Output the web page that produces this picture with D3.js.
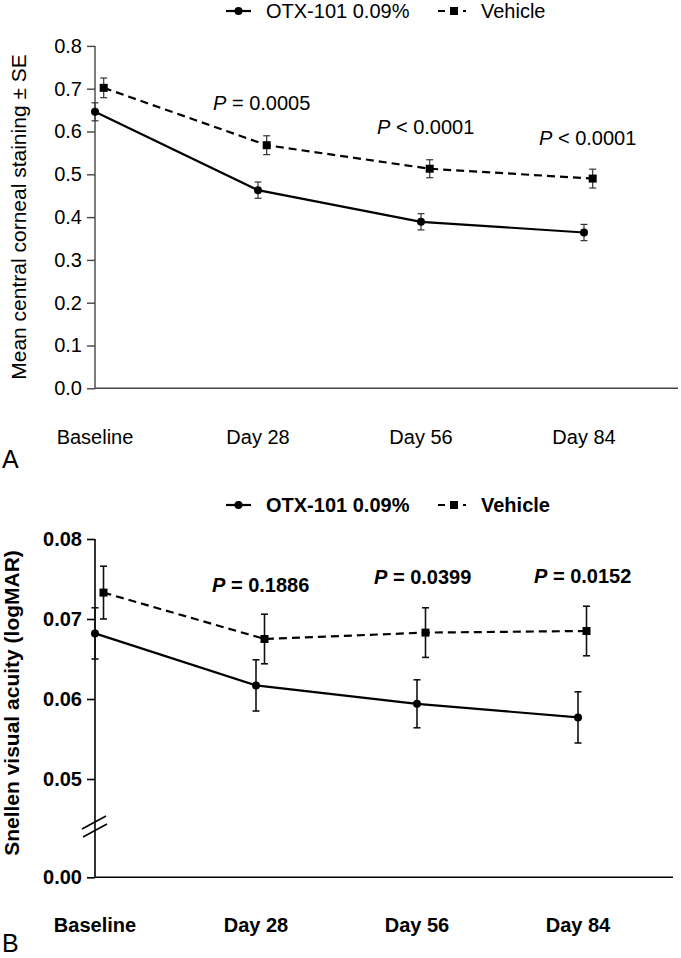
<!DOCTYPE html>
<html>
<head>
<meta charset="utf-8">
<script src="https://cdn.jsdelivr.net/npm/d3@7"></script>
<style>
  body { margin: 0; background: #fff; }
  svg { display: block; font-family: "Liberation Sans", Arial, sans-serif; }
</style>
</head>
<body>
<svg id="chart" width="681" height="958"></svg>
<script>
// ---------- data ----------
const categories = ["Baseline", "Day 28", "Day 56", "Day 84"];
const seriesNames = ["OTX-101 0.09%", "Vehicle"];

// Panel A: mean central corneal staining ± SE
const stainOTX = [0.646, 0.463, 0.389, 0.364];
const stainOTXse = [0.021, 0.019, 0.019, 0.019];
const stainVeh = [0.702, 0.568, 0.513, 0.490];
const stainVehSe = [0.023, 0.022, 0.021, 0.022];
const stainTicks = [0, 0.1, 0.2, 0.3, 0.4, 0.5, 0.6, 0.7, 0.8];
const stainP = [
  { cat: "Day 28", op: "=", val: "0.0005" },
  { cat: "Day 56", op: "<", val: "0.0001" },
  { cat: "Day 84", op: "<", val: "0.0001" }
];

// Panel B: Snellen visual acuity (logMAR)
const acuityOTX = [0.0682, 0.0617, 0.0594, 0.0577];
const acuityOTXse = [0.0032, 0.0032, 0.0030, 0.0032];
const acuityVeh = [0.0733, 0.0675, 0.0683, 0.0685];
const acuityVehSe = [0.0033, 0.0031, 0.0031, 0.0031];
const acuityTicks = [0, 0.05, 0.06, 0.07, 0.08];
const acuityP = [
  { cat: "Day 28", op: "=", val: "0.1886" },
  { cat: "Day 56", op: "=", val: "0.0399" },
  { cat: "Day 84", op: "=", val: "0.0152" }
];

// ---------- drawing ----------
const svg = d3.select("#chart");

function panel(cfg) {
  const g = svg.append("g");
  const weight = cfg.bold ? "bold" : "normal";
  const x = d3.scalePoint().domain(categories).range(cfg.xRange).padding(0);
  const y = cfg.y;

  // legend
  const lg = g.append("g");
  lg.append("line").attr("x1", 226).attr("x2", 251).attr("y1", cfg.legendY).attr("y2", cfg.legendY)
    .attr("stroke", "#000").attr("stroke-width", 2.2);
  lg.append("circle").attr("cx", 238.5).attr("cy", cfg.legendY).attr("r", 4).attr("fill", "#000");
  lg.append("text").attr("x", 266).attr("y", cfg.legendY + 7).attr("font-size", 20).attr("font-weight", weight)
    .text(seriesNames[0]);
  lg.append("line").attr("x1", 438).attr("x2", 470).attr("y1", cfg.legendY).attr("y2", cfg.legendY)
    .attr("stroke", "#000").attr("stroke-width", 2.2).attr("stroke-dasharray", "7,5,8,5,3");
  lg.append("rect").attr("x", 450).attr("y", cfg.legendY - 4).attr("width", 8).attr("height", 8).attr("fill", "#000");
  lg.append("text").attr("x", 481).attr("y", cfg.legendY + 7).attr("font-size", 20).attr("font-weight", weight)
    .text(seriesNames[1]);

  // axes
  const yAxis = d3.axisLeft(y).tickValues(cfg.ticks).tickFormat(d3.format(cfg.fmt)).tickSize(8).tickPadding(5);
  const ya = g.append("g").attr("transform", `translate(${cfg.xRange[0]},0)`).call(yAxis);
  ya.select(".domain").attr("stroke", cfg.axisColor).attr("stroke-width", cfg.axisWidth)
    .attr("d", `M-0,${y(cfg.ticks[cfg.ticks.length - 1])}H0V${y(0)}`);
  ya.selectAll(".tick line").attr("stroke", cfg.axisColor).attr("stroke-width", cfg.axisWidth);
  ya.selectAll(".tick text").attr("font-size", 20).attr("font-weight", weight).attr("fill", "#000")
    .attr("font-family", "Liberation Sans, Arial, sans-serif");

  g.append("line").attr("x1", cfg.xRange[0]).attr("x2", cfg.xEnd).attr("y1", y(0)).attr("y2", y(0))
    .attr("stroke", cfg.axisColor).attr("stroke-width", cfg.axisWidth);

  // category labels
  g.selectAll(".cat").data(categories).join("text")
    .attr("x", d => x(d)).attr("y", cfg.catY).attr("text-anchor", "middle")
    .attr("font-size", 20).attr("font-weight", weight).text(d => d);

  // y title
  g.append("text").attr("transform", `translate(${cfg.titleX},${cfg.titleY}) rotate(-90)`)
    .attr("text-anchor", "middle").attr("font-size", 21).attr("font-weight", weight).text(cfg.title);

  // panel letter
  g.append("text").attr("x", 2).attr("y", cfg.letterY).attr("font-size", 25).text(cfg.letter);

  // series
  const series = [
    { vals: cfg.otx, se: cfg.otxSe, dx: 0, dash: null, shape: "circle" },
    { vals: cfg.veh, se: cfg.vehSe, dx: cfg.dodge, dash: "8,5", shape: "square" }
  ];
  series.forEach(s => {
    const pts = categories.map((c, i) => ({ x: x(c) + s.dx, v: s.vals[i], e: s.se[i] }));
    g.append("path").datum(pts)
      .attr("d", d3.line().x(d => d.x).y(d => y(d.v)))
      .attr("fill", "none").attr("stroke", "#000").attr("stroke-width", 2.2)
      .attr("stroke-dasharray", s.dash);
    const eb = g.append("g").attr("stroke", cfg.errColor).attr("stroke-width", cfg.errWidth);
    pts.forEach(p => {
      eb.append("line").attr("x1", p.x).attr("x2", p.x).attr("y1", y(p.v - p.e)).attr("y2", y(p.v + p.e));
      [p.v - p.e, p.v + p.e].forEach(v => {
        eb.append("line").attr("x1", p.x - 3.5).attr("x2", p.x + 3.5).attr("y1", y(v)).attr("y2", y(v));
      });
    });
    if (s.shape === "circle") {
      g.selectAll(null).data(pts).join("circle").attr("cx", d => d.x).attr("cy", d => y(d.v))
        .attr("r", 4).attr("fill", "#000");
    } else {
      g.selectAll(null).data(pts).join("rect").attr("x", d => d.x - 4).attr("y", d => y(d.v) - 4)
        .attr("width", 8).attr("height", 8).attr("fill", "#000");
    }
  });

  // P values
  cfg.pvals.forEach((p, i) => {
    const t = g.append("text").attr("x", cfg.pPos[i][0]).attr("y", cfg.pPos[i][1])
      .attr("font-size", 20).attr("font-weight", weight);
    t.append("tspan").attr("font-style", "italic").text("P");
    t.append("tspan").text(` ${p.op} ${p.val}`);
  });

  return g;
}

// Panel A
panel({
  letter: "A", letterY: 468, bold: false, legendY: 11,
  xRange: [95, 584], xEnd: 678, dodge: 8.7,
  y: d3.scaleLinear().domain([0, 0.8]).range([388.3, 45.9]),
  ticks: stainTicks, fmt: ".1f",
  axisColor: "#444", axisWidth: 1.4, errColor: "#333", errWidth: 1.2,
  catY: 444, title: "Mean central corneal staining \u00B1 SE", titleX: 26, titleY: 217,
  otx: stainOTX, otxSe: stainOTXse, veh: stainVeh, vehSe: stainVehSe,
  pvals: stainP, pPos: [[213, 110], [377, 134], [539, 145]]
});

// Panel B (broken y axis)
const yB = d3.scaleLinear().domain([0, 0.05, 0.08]).range([877.3, 779, 539]);
const gB = panel({
  letter: "B", letterY: 952, bold: true, legendY: 505,
  xRange: [95, 578], xEnd: 673, dodge: 8.5,
  y: yB,
  ticks: acuityTicks, fmt: ".2f",
  axisColor: "#000", axisWidth: 1.6, errColor: "#111", errWidth: 1.6,
  catY: 932, title: "Snellen visual acuity (logMAR)", titleX: 19, titleY: 703,
  otx: acuityOTX, otxSe: acuityOTXse, veh: acuityVeh, vehSe: acuityVehSe,
  pvals: acuityP, pPos: [[212, 592], [374, 584], [534, 583]]
});

// axis break marks
const brk = gB.append("g").attr("stroke", "#000").attr("stroke-width", 1.6);
brk.append("line").attr("x1", 82).attr("y1", 829).attr("x2", 106).attr("y2", 816);
brk.append("line").attr("x1", 83).attr("y1", 837).attr("x2", 107).attr("y2", 824);
</script>
</body>
</html>
